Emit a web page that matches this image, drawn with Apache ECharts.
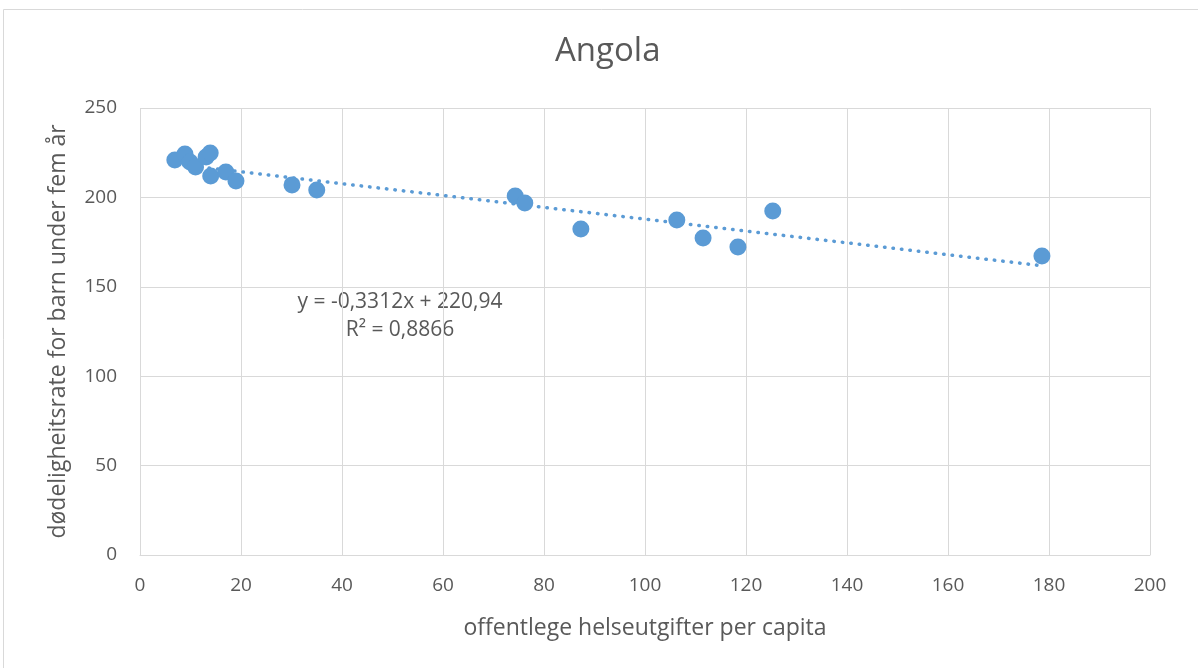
<!DOCTYPE html>
<html>
<head>
<meta charset="utf-8">
<script src="https://cdn.jsdelivr.net/npm/echarts@6/dist/echarts.min.js"></script>
<style>
  html, body { margin: 0; padding: 0; background: #fff; }
  #chart { width: 1198px; height: 668px; }
</style>
</head>
<body>
<div id="chart"></div>
<script>
// offentlege helseutgifter per capita (x) / dødelighetsrate (y)
const spending = [6.9, 8.9, 9.9, 11.0, 13.1, 13.9, 14.0, 17.0, 19.0, 30.1, 35.0, 74.3, 76.2, 87.3, 106.3, 111.5, 118.4, 125.3, 178.6];
const mortality = [220.9, 224.3, 219.8, 217.0, 222.6, 224.8, 212.0, 214.2, 209.2, 207.0, 204.1, 200.8, 196.9, 182.3, 187.4, 177.3, 172.3, 192.4, 167.2];

// lineær trendlinje: y = -0,3312x + 220,94
const trendSlope = -0.3312;
const trendIntercept = 220.94;
const trendRange = [7, 178];

const xTicks = { min: 0, max: 200, interval: 20 };
const yTicks = { min: 0, max: 250, interval: 50 };

const points = spending.map((x, i) => [x, mortality[i]]);
const trend = trendRange.map(x => [x, trendSlope * x + trendIntercept]);

const textColor = '#595959';
const gridColor = '#d9d9d9';
const blue = '#5b9bd5';
const font = '"Open Sans", Lato, sans-serif';

const chart = echarts.init(document.getElementById('chart'));
chart.setOption({
  backgroundColor: '#fff',
  animation: false,
  textStyle: { fontFamily: font },
  title: {
    text: 'Angola',
    left: 550,
    top: 30,
    textStyle: { fontFamily: font, fontSize: 33, fontWeight: 'normal', color: textColor }
  },
  grid: { left: 140, right: 48, top: 108, bottom: 113 },
  xAxis: {
    type: 'value',
    min: xTicks.min, max: xTicks.max, interval: xTicks.interval,
    name: 'offentlege helseutgifter per capita',
    nameLocation: 'middle',
    nameGap: 62,
    nameTextStyle: { fontFamily: font, fontSize: 23, color: textColor },
    axisLine: { show: true, lineStyle: { color: gridColor, width: 1 } },
    axisTick: { show: false },
    axisLabel: { fontFamily: font, fontSize: 19, color: textColor, margin: 21 },
    splitLine: { show: true, lineStyle: { color: gridColor, width: 1 } }
  },
  yAxis: {
    type: 'value',
    min: yTicks.min, max: yTicks.max, interval: yTicks.interval,
    name: 'dødeligheitsrate for barn under fem år',
    nameLocation: 'middle',
    nameGap: 70,
    nameTextStyle: { fontFamily: font, fontSize: 23, color: textColor },
    axisLine: { show: false },
    axisTick: { show: false },
    axisLabel: { fontFamily: font, fontSize: 19, color: textColor, margin: 23 },
    splitLine: { show: true, lineStyle: { color: gridColor, width: 1 } }
  },
  series: [
    {
      type: 'line',
      data: trend,
      showSymbol: false,
      lineStyle: { color: blue, width: 3.5, type: [0.5, 8], cap: 'round' },
      z: 2
    },
    {
      type: 'scatter',
      data: points,
      symbolSize: 17,
      itemStyle: { color: blue, opacity: 1 },
      z: 3
    }
  ],
  graphic: [
    {
      type: 'rect',
      shape: { x: 3.5, y: 9.5, width: 1200, height: 670 },
      style: { fill: 'none', stroke: gridColor, lineWidth: 1 },
      silent: true
    },
    {
      type: 'text',
      x: 400, y: 302,
      style: { text: 'y = -0,3312x + 220,94', fontFamily: font, fontSize: 21, fill: textColor, align: 'center', verticalAlign: 'middle' }
    },
    {
      type: 'text',
      x: 400, y: 330,
      style: { text: 'R² = 0,8866', fontFamily: font, fontSize: 21, fill: textColor, align: 'center', verticalAlign: 'middle' }
    }
  ]
});
</script>
</body>
</html>
